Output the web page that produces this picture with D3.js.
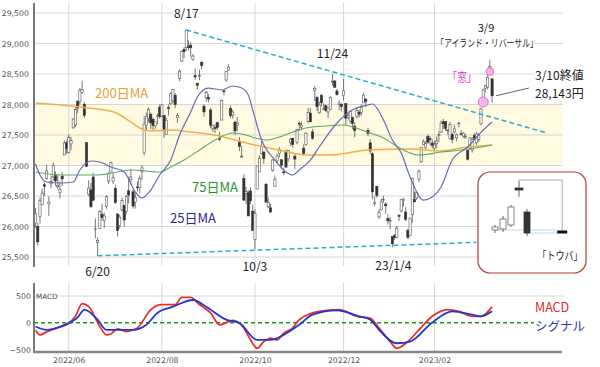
<!DOCTYPE html>
<html><head><meta charset="utf-8">
<script src="https://cdn.jsdelivr.net/npm/d3@7/dist/d3.min.js"></script>
<style>body{margin:0;background:#fff}svg{display:block}</style>
</head><body><svg id="c" width="600" height="367"></svg>
<script>
// ---------- DATA ----------
const startDate = "2022-05-11", endDate = "2023-03-10";
const holidays = ["2022-07-18","2022-08-11","2022-09-19","2022-09-23","2022-10-10","2022-11-03","2022-11-23","2023-01-02","2023-01-03","2023-01-09","2023-02-23"];

const opens = [26050,26000,26163,26356,26685,26789,26370,26700,26814,26835,26650,26553,26825,27172,27372,
27212,27353,27617,27663,28054,28050,28199,28004,27374,26530,26599,26811,25962,25739,25971,26201,26097,26330,26744,26893,26744,26626,
26205,26020,26274,26346,26252,26585,26767,26568,26402,26648,26638,26897,27211,27658,27777,27835,27760,27650,27809,27956,
27809,27819,27506,27950,28020,28060,28152,27784,28426,28710,28904,28931,28949,28973,28742,28472,28349,28477,28686,27972,28110,28118,
27910,27601,27622,27703,27445,27745,28222,28402,28558,27938,27829,27714,27660,27400,27142,26791,26542,26552,26582,26251,
25789,26614,26896,27199,27221,26692,26324,26307,26922,26657,27073,27194,27094,26897,27216,27109,27377,27447,27153,27374,
27692,27628,27284,27341,27726,27859,27551,28232,28112,27864,28147,27924,27980,27878,27915,28370,28385,28221,28004,28003,
28145,28017,27785,27728,27788,27645,27804,27874,27868,28026,28089,27577,27371,27193,26383,26658,26158,26271,26444,26367,26130,26093,
25834,25848,25823,26181,26253,26431,26236,25939,25851,26193,26444,26469,26775,27061,27341,27292,27474,27439,27368,
27281,27356,27509,27545,27716,27721,27570,27440,27511,27549,27453,27690,27520,27484,27452,27244,27278,27255,27491,
27371,27428,27682,28065,28268,28286,28581,28421];
const highs = [26303,26061,26474,26623,26721,27014,26495,26833,27048,26901,26842,26737,26898,27413,27410,
27512,27470,27772,27962,28065,28274,28389,28041,27374,26756,26720,26880,26133,25826,26273,26375,26228,26511,26899,27062,26878,26685,
26214,26197,26475,26348,26512,26817,26944,26614,26545,26741,26833,27009,27803,27869,27955,27866,27773,27720,27848,28000,
28012,27819,27780,27999,28201,28257,28187,27859,28576,28889,28939,29222,29053,29020,28826,28591,28353,28570,28716,28003,28222,28171,
27943,27668,27680,27703,27553,28081,28240,28549,28659,27987,27914,27716,27794,27466,27318,26858,26650,26593,26642,26360,
26282,26992,27172,27399,27232,26712,26472,26375,27104,26837,27192,27306,27105,26967,27260,27250,27445,27453,27191,27599,
27721,27720,27347,27547,27939,27945,27598,28305,28146,28050,28173,28020,27998,27948,28135,28502,28397,28254,28067,28021,
28423,28017,27857,27900,27800,27710,27961,27911,28002,28195,28101,27620,27435,27216,26496,26669,26287,26457,26503,26401,26204,26153,
25834,25877,26014,26203,26450,26470,26317,25964,26144,26800,26575,26564,26936,27299,27428,27395,27510,27481,27430,
27402,27476,27563,27737,27762,27721,27597,27716,27540,27670,27522,27714,27582,27549,27513,27245,27461,27465,27532,
27555,27534,27946,28262,28322,28490,28734,28421];
const lows = [25980,25688,26046,26356,26500,26770,26173,26627,26750,26667,26618,26460,26658,27172,27184,
27193,27251,27603,27629,27861,28000,28178,27777,26972,26496,26301,26431,25805,25520,25954,26089,25974,26289,26696,26893,26697,26372,
25837,25961,26241,25993,26207,26379,26684,26293,26293,26574,26547,26757,27165,27573,27708,27596,27581,27596,27680,27768,
27793,27453,27506,27818,27990,28018,27935,27700,28381,28698,28763,28881,28888,28785,28715,28405,28244,28399,28575,27799,28044,28034,
27609,27549,27531,27579,27400,27745,28148,28370,28553,27779,27769,27498,27560,27235,27124,26431,26369,26173,26368,25937,
25621,26614,26887,27181,27028,26385,26304,26224,26898,26657,27039,27137,26945,26837,26965,27064,27325,27293,26943,27347,
27570,27574,27164,27322,27690,27716,27422,28059,27894,27847,27970,27920,27881,27778,27915,28309,28272,28146,27911,27886,
28062,27662,27755,27690,27597,27462,27766,27787,27815,28026,27955,27477,27185,26444,26333,26468,26125,26269,26391,26209,26033,25958,
25661,25781,25806,26091,26235,26326,26089,25797,25851,26060,26395,26436,26730,27046,27332,27251,27356,27334,27279,
27232,27288,27383,27541,27601,27568,27508,27423,27363,27523,27398,27623,27493,27449,27441,27081,27253,27212,27435,
27334,27386,27666,28001,28197,28244,28530,28031];
const closes = [26213,25748,26428,26547,26659,26911,26402,26739,27001,26748,26677,26604,26781,27369,27279,
27457,27413,27761,27915,27943,28234,28246,27824,26987,26629,26326,26431,25963,25771,26246,26149,26171,26491,26871,27049,26804,26393,
25935,26153,26423,26107,26490,26517,26812,26336,26478,26643,26788,26961,27680,27803,27915,27699,27655,27715,27815,27801,
27993,27594,27742,27932,28176,28249,27999,27819,28546,28871,28868,29222,28942,28930,28794,28452,28313,28479,28641,27878,28195,28091,
27661,27650,27619,27626,27430,28065,28214,28542,28614,27818,27875,27567,27688,27313,27153,26431,26571,26173,26422,25937,
26215,26992,27120,27311,27116,26401,26397,26237,27090,26775,27156,27257,27006,26890,26974,27250,27431,27345,27105,27587,
27678,27663,27199,27527,27872,27716,27446,28263,27963,27990,28028,27930,27899,27944,28115,28383,28283,28162,28027,27968,
28226,27777,27820,27885,27686,27574,27901,27842,27954,28156,28051,27527,27237,26568,26387,26507,26235,26405,26447,26340,26093,26094,
25716,25820,25973,26175,26446,26449,26119,25822,26138,26791,26405,26553,26906,27299,27395,27362,27382,27433,27327,
27346,27402,27509,27693,27685,27606,27584,27670,27427,27602,27501,27696,27513,27531,27473,27104,27453,27423,27445,
27516,27498,27927,28237,28309,28444,28623,28143];

// moving averages: [trading-day index, value]
const ma25 = [[0,27025],[2,26844],[5,26730],[12,26713],[17,26730],[20,26926],[25,27074],[29,27057],[34,26975],[40,26893],[45,26566],[48,26467],[52,26598],[56,26844],[61,27090],[65,27500],[70,27877],[73,28123],[78,28270],[84,28238],[89,28303],[93,28270],[96,28156],[98,27910],[102,27418],[108,27090],[113,26893],[116,26844],[119,26926],[124,27090],[128,27303],[136,27697],[143,27910],[150,27992],[152,28008],[157,27746],[161,27418],[165,27205],[169,26811],[175,26434],[179,26484],[183,26648],[188,27090],[195,27303],[202,27582],[206,27713]];
const ma75 = [[0,26893],[12,26844],[28,26844],[43,26926],[56,26893],[61,26975],[67,27090],[74,27254],[81,27418],[89,27533],[95,27500],[99,27451],[104,27418],[110,27467],[116,27549],[122,27615],[131,27648],[139,27664],[143,27631],[151,27533],[157,27451],[162,27336],[169,27205],[173,27172],[183,27221],[192,27254],[201,27303],[206,27336]];
const ma200 = [[0,28025],[20,27959],[35,27880],[43,27713],[47,27615],[52,27566],[61,27582],[70,27549],[81,27500],[90,27418],[99,27336],[110,27254],[122,27172],[133,27172],[150,27254],[169,27270],[183,27238],[192,27287],[206,27336]];

const macdLine = [[0,-140],[2,-226],[5,-170],[10,-94],[12,-70],[14,-38],[18,120],[21,358],[24,300],[29,-70],[32,-226],[34,-210],[37,-113],[41,-164],[46,-100],[48,6],[52,245],[57,340],[63,340],[66,476],[70,476],[74,340],[79,183],[83,-38],[89,44],[94,-100],[97,-320],[100,-477],[103,-352],[106,-289],[109,-320],[112,-195],[116,-100],[119,57],[128,214],[137,245],[145,120],[151,88],[155,-100],[160,-352],[163,-477],[168,-352],[173,-132],[179,120],[186,245],[191,214],[197,120],[201,120],[206,296]];
const signalLine = [[0,-70],[5,-132],[12,-57],[19,101],[22,245],[28,57],[32,-132],[38,-132],[44,-132],[50,-38],[55,183],[62,300],[71,425],[77,300],[86,57],[92,-6],[100,-320],[106,-320],[112,-226],[119,-38],[125,151],[136,232],[146,120],[151,57],[155,-132],[163,-383],[169,-352],[179,6],[188,214],[197,151],[201,120],[206,214]];

const yTicks = [25500,26000,26500,27000,27500,28000,28500,29000,29500];
const macdTicks = [-500,0,500];
const monthTicks = ["2022-06","2022-08","2022-10","2022-12","2023-02"];
const band = [27000, 28000];
const trendUpper = [[68,29222],[231,27530]];
const trendLower = [[28,25520],[199,25740]];

// tombstone (トウバ) illustration
const miniO = [7,8,12,49,25], miniH = [12,21,32,56,28], miniL = [4,5,10,40,1], miniC = [10,18,30,47,4];
const tobaSlot = 8.4, tobaVal = 5;

// ---------- BUILD ----------
const hol = new Set(holidays);
const days = [];
for (let d = new Date(startDate+"T00:00:00Z"); d <= new Date(endDate+"T00:00:00Z"); d.setUTCDate(d.getUTCDate()+1)) {
  const w = d.getUTCDay(), s = d.toISOString().slice(0,10);
  if (w>0 && w<6 && !hol.has(s)) days.push(s);
}
const candles = closes.map((c,i)=>({i, o:opens[i], h:highs[i], l:lows[i], c}));
const idxOf = s => days.findIndex(d=>d.startsWith(s));

const svg = d3.select("#c");
svg.append("rect").attr("width",600).attr("height",367).attr("fill","#fff");

const x = d3.scaleLinear().domain([-0.7,238]).range([34,563]);
const y = d3.scaleLinear().domain([25500,29500]).range([257,13]);
const ym = d3.scaleLinear().domain([-500,500]).range([349.5,296]);
const L = 34, R = 563;
const jp = "'Noto Sans CJK JP', 'Noto Sans', sans-serif";
const num = "'DejaVu Sans', Verdana, sans-serif";

// band
svg.append("rect").attr("x",L).attr("width",R-L).attr("y",y(band[1])).attr("height",y(band[0])-y(band[1])).attr("fill","#fffae0");

// grid main
svg.append("g").selectAll("line").data(yTicks).join("line")
  .attr("x1",L).attr("x2",R).attr("y1",d=>y(d)).attr("y2",d=>y(d)).attr("stroke","#d6d6d6").attr("stroke-width",1);
const mIdx = monthTicks.map(idxOf);
svg.append("g").selectAll("line").data(mIdx).join("line")
  .attr("x1",d=>x(d)).attr("x2",d=>x(d)).attr("y1",3).attr("y2",266).attr("stroke","#d6d6d6");
// grid macd
svg.append("g").selectAll("line").data(mIdx).join("line")
  .attr("x1",d=>x(d)).attr("x2",d=>x(d)).attr("y1",283).attr("y2",351).attr("stroke","#d6d6d6");
svg.append("line").attr("x1",L).attr("x2",R).attr("y1",ym(500)).attr("y2",ym(500)).attr("stroke","#d6d6d6");

// y axis main
const ya = svg.append("g").attr("transform",`translate(${L},0)`)
  .call(d3.axisLeft(y).tickValues(yTicks).tickFormat(d3.format(",")).tickSize(0).tickPadding(5));
ya.select(".domain").remove();
ya.selectAll("text").attr("font-family",num).attr("font-size",7.8).attr("fill","#555");
svg.append("line").attr("x1",L).attr("x2",L).attr("y1",3).attr("y2",267).attr("stroke","#777").attr("stroke-width",2);

// candles
const cg = svg.append("g");
cg.selectAll("line").data(candles).join("line")
  .attr("x1",d=>x(d.i)).attr("x2",d=>x(d.i)).attr("y1",d=>y(d.h)).attr("y2",d=>y(d.l))
  .attr("stroke","#555").attr("stroke-width",0.8);
cg.selectAll("rect").data(candles).join("rect")
  .attr("x",d=>x(d.i)-1.1).attr("width",2.2)
  .attr("y",d=>y(Math.max(d.o,d.c))).attr("height",d=>Math.max(0.8,Math.abs(y(d.o)-y(d.c))))
  .attr("fill",d=>d.c>=d.o?"#fff":"#333").attr("stroke",d=>d.c>=d.o?"#555":"#333").attr("stroke-width",0.6);

// moving averages
const lineP = d3.line().x(d=>x(d[0])).y(d=>y(d[1])).curve(d3.curveMonotoneX);
svg.append("path").attr("d",lineP(ma200)).attr("fill","none").attr("stroke","#f0b050").attr("stroke-width",1.5);
svg.append("path").attr("d",lineP(ma75)).attr("fill","none").attr("stroke","#62a862").attr("stroke-width",1.1);
svg.append("path").attr("d",lineP(ma25)).attr("fill","none").attr("stroke","#6a6ab8").attr("stroke-width",1.2);

// trend lines
const tl = d3.line().x(d=>x(d[0])).y(d=>y(d[1]));
[trendUpper,trendLower].forEach(t=>svg.append("path").attr("d",tl(t)).attr("fill","none")
  .attr("stroke","#2aaad2").attr("stroke-width",1.5).attr("stroke-dasharray","5,3"));

// gap & island circles
svg.append("circle").attr("cx",x(202)).attr("cy",y(28040)).attr("r",5).attr("fill","#f4b4ee").attr("stroke","#e070d8").attr("stroke-width",1);
svg.append("circle").attr("cx",x(205)).attr("cy",y(28540)).attr("r",3.8).attr("fill","#f4b4ee").attr("stroke","#e070d8").attr("stroke-width",1);

// labels
function label(t, px, py, size, color, anchor, opts={}) {
  const el = svg.append("text").attr("x",px).attr("y",py).attr("font-family",jp).attr("font-size",size)
    .attr("fill",color).attr("text-anchor",anchor||"start").text(t);
  if (opts.halo) el.attr("stroke","#fff").attr("stroke-width",4).attr("paint-order","stroke");
  if (opts.len) el.attr("textLength",opts.len).attr("lengthAdjust","spacingAndGlyphs");
  return el;
}
label("8/17", x(68), 18, 12, "#222", "middle", {halo:true});
label("11/24", x(134), 58, 12, "#222", "middle");
label("3/9", 486, 32, 11, "#222", "middle", {halo:true});
label("「アイランド・リバーサル」", 487, 47, 10, "#222", "middle", {halo:true, len:102});
label("「窓」", 462, 82, 12, "#e040c0", "middle", {len:29});
label("3/10終値", 535, 80, 12, "#222", "start", {halo:true});
label("28,143円", 535, 98, 12, "#222", "start", {halo:true});
svg.append("line").attr("x1",x(206)+4).attr("y1",y(28143)).attr("x2",529).attr("y2",88).attr("stroke","#666").attr("stroke-width",1);
label("200日MA", 95, 98, 13, "#e8a030");
label("75日MA", 192, 192, 13, "#2f8f2f");
label("25日MA", 170, 223, 13, "#2828a0");
label("6/20", x(28), 276, 12, "#222", "middle");
label("10/3", x(99), 271, 12, "#222", "middle");
label("23/1/4", x(161)+1, 270, 12, "#222", "middle");

// tombstone box
svg.append("rect").attr("x",478).attr("y",172).attr("width",108).attr("height",101).attr("rx",12)
  .attr("fill","#fff").attr("stroke","#b23a3a").attr("stroke-width",1.2);
const bx = d3.scaleLinear().domain([0,1]).range([495,503]);
const by = d3.scaleLinear().domain([0,60]).range([237,177]);
svg.append("path").attr("d",d3.line()([[bx(2.9),by(57)],[bx(tobaSlot),by(57)],[bx(tobaSlot),by(tobaVal)]]))
  .attr("fill","none").attr("stroke","#999").attr("stroke-width",0.8);
svg.append("line").attr("x1",bx(0.2)).attr("x2",bx(7.8)).attr("y1",by(7)).attr("y2",by(7)).attr("stroke","#9cc8e0").attr("stroke-dasharray","2,1");
svg.append("line").attr("x1",bx(3.8)).attr("x2",bx(7.8)).attr("y1",by(4)).attr("y2",by(4)).attr("stroke","#9cc8e0").attr("stroke-dasharray","2,1");
const mini = miniO.map((o,k)=>({k,o,h:miniH[k],l:miniL[k],c:miniC[k]}));
svg.append("g").selectAll("line").data(mini).join("line")
  .attr("x1",d=>bx(d.k)).attr("x2",d=>bx(d.k)).attr("y1",d=>by(d.h)).attr("y2",d=>by(d.l)).attr("stroke","#555").attr("stroke-width",0.9);
svg.append("g").selectAll("rect").data(mini).join("rect")
  .attr("x",d=>bx(d.k)-(d.k===3?4:3)).attr("width",d=>d.k===3?8:6)
  .attr("y",d=>by(Math.max(d.o,d.c))).attr("height",d=>Math.abs(by(d.o)-by(d.c)))
  .attr("fill",d=>d.c>=d.o?"#fff":"#333").attr("stroke",d=>d.c>=d.o?"#666":"#333").attr("stroke-width",0.8);
svg.append("rect").attr("x",bx(tobaSlot)-5).attr("width",10).attr("y",by(tobaVal)-1.5).attr("height",3).attr("fill","#111");
label("「トウバ」", 560, 260, 11, "#222", "middle", {len:45});

// MACD panel
svg.append("line").attr("x1",L).attr("x2",534).attr("y1",ym(0)).attr("y2",ym(0))
  .attr("stroke","#1a9a1a").attr("stroke-width",1.5).attr("stroke-dasharray","4,3");
const mLine = d3.line().x(d=>x(d[0])).y(d=>ym(d[1])).curve(d3.curveMonotoneX);
svg.append("path").attr("d",mLine(macdLine)).attr("fill","none").attr("stroke","#e8302a").attr("stroke-width",1.8);
svg.append("path").attr("d",mLine(signalLine)).attr("fill","none").attr("stroke","#2038d0").attr("stroke-width",1.8);
const ma = svg.append("g").attr("transform",`translate(${L},0)`)
  .call(d3.axisLeft(ym).tickValues(macdTicks).tickFormat(d3.format("d")).tickSize(0).tickPadding(3));
ma.select(".domain").remove();
ma.selectAll("text").attr("font-family",num).attr("font-size",7.8).attr("fill","#555");
svg.append("text").attr("x",36).attr("y",299).attr("font-family",num).attr("font-size",7.2).attr("fill","#555").text("MACD");
const xa = svg.append("g").attr("transform","translate(0,352)")
  .call(d3.axisBottom(x).tickValues(mIdx).tickFormat(i=>days[i].slice(0,7).replace("-","/")).tickSize(0).tickPadding(5));
xa.select(".domain").remove();
xa.selectAll("text").attr("font-family",num).attr("font-size",7.8).attr("fill","#555");
svg.append("line").attr("x1",L).attr("x2",L).attr("y1",283).attr("y2",352).attr("stroke","#777").attr("stroke-width",2);
svg.append("line").attr("x1",L-1).attr("x2",562).attr("y1",352).attr("y2",352).attr("stroke","#888").attr("stroke-width",2.5);
label("MACD", 535, 312, 12.5, "#e02a2a");
label("シグナル", 535, 331, 12.5, "#2a3aa8");
</script></body></html>
